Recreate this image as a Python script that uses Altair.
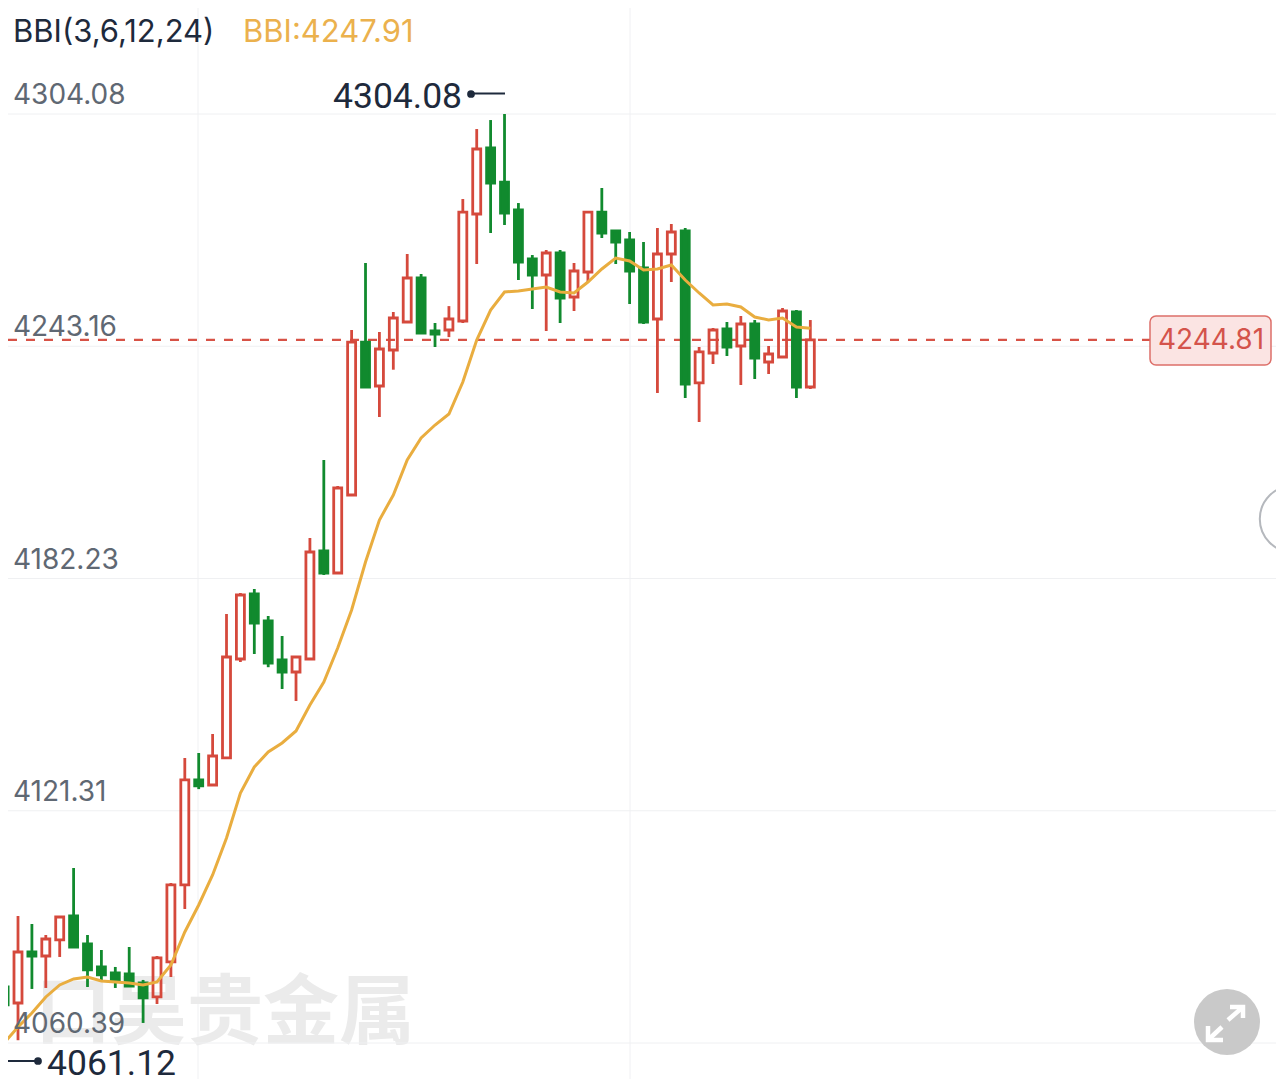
import altair as alt
import pandas as pd

FONT = "Inter"
BIG_FONT = "Roboto"
RED, GREEN, GOLD, INK, MUTED = "#d5493c", "#118a2e", "#e9ad3f", "#1e2a3c", "#5f6873"

high = [4075.09, 4093.71, 4091.61, 4088.73, 4093.71, 4106.30, 4088.73, 4084.79, 4080.34, 4085.58,
        4076.93, 4083.22, 4102.37, 4135.16, 4136.47, 4141.45, 4172.93, 4178.44, 4179.49, 4172.40,
        4167.16, 4161.65, 4192.86, 4213.32, 4206.50, 4247.42, 4265.00, 4246.90, 4252.14, 4267.36,
        4262.12, 4249.26, 4253.69, 4281.78, 4300.14, 4302.50, 4304.08, 4280.73, 4267.09, 4268.41,
        4268.41, 4265.00, 4278.63, 4284.67, 4273.39, 4273.13, 4270.51, 4274.18, 4275.23, 4274.18,
        4242.97, 4247.95, 4249.52, 4251.09, 4250.04, 4243.23, 4253.20, 4252.67, 4250.04]
low = [4070.37, 4061.12, 4074.57, 4074.83, 4082.96, 4085.58, 4075.09, 4076.40, 4074.83, 4075.35,
       4065.65, 4070.63, 4077.71, 4095.55, 4126.99, 4128.07, 4135.16, 4160.34, 4162.44, 4158.97,
       4153.26, 4150.11, 4161.12, 4183.16, 4183.68, 4204.14, 4232.47, 4224.60, 4237.01, 4249.52,
       4246.64, 4242.97, 4245.56, 4249.26, 4264.73, 4272.87, 4274.97, 4260.54, 4252.93, 4247.16,
       4249.26, 4252.41, 4260.01, 4271.55, 4264.73, 4254.24, 4249.00, 4230.90, 4260.01, 4229.59,
       4223.29, 4238.50, 4240.60, 4233.00, 4234.57, 4235.88, 4240.34, 4229.59, 4231.95]
body_top = [4075.09, 4084.27, 4084.27, 4087.68, 4093.45, 4093.71, 4086.37, 4080.34, 4078.76, 4078.50,
            4076.14, 4082.70, 4101.85, 4129.39, 4129.39, 4135.68, 4161.65, 4177.91, 4178.18, 4171.09,
            4160.86, 4161.65, 4189.19, 4189.45, 4205.98, 4244.27, 4244.27, 4242.44, 4250.57, 4261.07,
            4261.07, 4247.17, 4250.31, 4278.37, 4294.90, 4295.16, 4286.24, 4278.90, 4266.05, 4267.62,
            4267.62, 4262.90, 4278.37, 4278.37, 4273.39, 4271.03, 4263.69, 4267.36, 4273.13, 4273.39,
            4241.66, 4247.42, 4247.69, 4249.00, 4249.00, 4241.13, 4252.41, 4252.14, 4244.81]
body_bottom = [4070.37, 4070.89, 4083.22, 4083.22, 4087.42, 4085.58, 4079.55, 4078.24, 4076.93, 4075.35,
               4072.21, 4072.47, 4081.65, 4101.85, 4127.82, 4128.07, 4135.16, 4161.12, 4170.57, 4160.07,
               4157.71, 4157.71, 4161.12, 4183.68, 4183.68, 4204.14, 4232.47, 4232.74, 4242.18, 4249.52,
               4246.64, 4246.38, 4247.42, 4249.79, 4277.85, 4285.98, 4278.11, 4265.26, 4261.85, 4261.85,
               4255.82, 4256.08, 4262.64, 4272.87, 4270.51, 4262.90, 4249.52, 4250.31, 4267.36, 4233.26,
               4233.53, 4241.39, 4242.97, 4243.23, 4240.08, 4239.03, 4240.34, 4232.47, 4232.47]
rising = [0, 1, 0, 1, 1, 0, 0, 0, 0, 0, 0, 1, 1, 1, 0, 1, 1, 1, 0, 0, 0, 1, 1, 0, 1, 1, 0, 1, 1, 1,
          0, 0, 1, 1, 1, 0, 0, 0, 0, 1, 0, 1, 1, 0, 0, 0, 0, 1, 1, 0, 1, 1, 0, 1, 0, 1, 1, 0, 1]
bbi = [4060.40, 4064.60, 4068.27, 4072.47, 4075.62, 4077.19, 4077.71, 4076.66, 4076.40, 4076.14,
       4075.62, 4076.40, 4080.86, 4089.52, 4096.60, 4104.47, 4114.18, 4125.98, 4132.80, 4136.74,
       4139.10, 4142.25, 4149.06, 4155.10, 4164.01, 4173.98, 4186.57, 4197.58, 4204.14, 4213.32,
       4219.09, 4222.50, 4225.39, 4233.78, 4244.80, 4252.67, 4257.39, 4257.65, 4258.18, 4258.70,
       4257.39, 4257.13, 4260.01, 4263.43, 4266.31, 4265.52, 4263.16, 4263.43, 4264.48, 4260.54,
       4257.13, 4253.98, 4254.24, 4253.46, 4250.84, 4250.04, 4250.57, 4248.21, 4247.91]
y_ticks = [4060.39, 4121.31, 4182.23, 4243.16, 4304.08]
x_grid = [13.95, 45.03]
last_price = 4244.81

W, H = 1268, 1071
xs = alt.Scale(domain=[0, 91.5], range=[-3.9, W], nice=False, zero=False, padding=0)
ys = alt.Scale(domain=[4050.95, 4331.89], range=[H, 0], nice=False, zero=False, padding=0)

df = pd.DataFrame({"i": range(len(high)), "high": high, "low": low, "top": body_top,
                   "bottom": body_bottom, "bbi": bbi, "rising": rising})
df["color"] = [RED if r else GREEN for r in rising]
df["fill"] = ["transparent" if r else GREEN for r in rising]

X = alt.X("i:Q", scale=xs, axis=None)
base = alt.Chart(df)

ticks_df = pd.DataFrame({"t": y_ticks, "s": [f"{v:.2f}" for v in y_ticks]})
grid = alt.Chart(ticks_df).mark_rule(color="#eff0f2", strokeWidth=1).encode(
    y=alt.Y("t:Q", scale=ys, axis=None))
tick_labels = alt.Chart(ticks_df).mark_text(
    font=FONT, fontSize=28, color=MUTED, align="left", baseline="middle", dy=-18
).encode(x=alt.value(5), y=alt.Y("t:Q", scale=ys, axis=None), text="s:N")
vgrid = alt.Chart(pd.DataFrame({"v": x_grid})).mark_rule(color="#f0f1f3", strokeWidth=1).encode(
    x=alt.X("v:Q", scale=xs, axis=None))

watermark = alt.Chart(pd.DataFrame({"t": ["口吴贵金属"]})).mark_text(
    font="Noto Sans CJK SC", fontSize=76, fontWeight="bold", color="#ebebeb", align="left", baseline="middle"
).encode(x=alt.value(27), y=alt.value(1007), text="t:N")

dash = alt.Chart(pd.DataFrame({"p": [last_price], "a": [0.28], "b": [82.44]})).mark_rule(
    color=RED, strokeWidth=2.2, strokeDash=[9, 9], opacity=0.95
).encode(x=alt.X("a:Q", scale=xs, axis=None), x2="b:Q", y=alt.Y("p:Q", scale=ys, axis=None))

wick_up = base.mark_rule(strokeWidth=2.8, clip=True).encode(
    x=X, y=alt.Y("high:Q", scale=ys, axis=None), y2="top:Q", color=alt.Color("color:N", scale=None))
wick_down = base.mark_rule(strokeWidth=2.8, clip=True).encode(
    x=X, y=alt.Y("bottom:Q", scale=ys, axis=None), y2="low:Q", color=alt.Color("color:N", scale=None))
bodies = base.mark_bar(size=8, strokeWidth=2.8, clip=True).encode(
    x=X, y=alt.Y("top:Q", scale=ys, axis=None), y2="bottom:Q",
    fill=alt.Fill("fill:N", scale=None), stroke=alt.Stroke("color:N", scale=None))
line = base.mark_line(color=GOLD, strokeWidth=3, clip=True).encode(
    x=X, y=alt.Y("bbi:Q", scale=ys, axis=None))


def label(text, x, y, size, color, align="left", font=FONT):
    return alt.Chart(pd.DataFrame({"t": [text]})).mark_text(
        font=font, fontSize=size, color=color, align=align, baseline="middle"
    ).encode(x=alt.value(x), y=alt.value(y), text="t:N")


tag = alt.Chart(pd.DataFrame({"a": [0]})).mark_rect(
    fill="#fbe4e3", stroke="#dd6f69", strokeWidth=1.5, cornerRadius=6
).encode(x=alt.value(1142), x2=alt.value(1263), y=alt.value(308), y2=alt.value(357))

polylines = pd.DataFrame({
    "g": ["hi", "hi", "lo", "lo", "a", "a", "a", "b", "b", "c", "c", "c", "d", "d"],
    "o": [0, 1, 0, 1, 0, 1, 2, 0, 1, 0, 1, 2, 0, 1],
    "x": [463, 497, 0, 30, 1222, 1235, 1235, 1220, 1235, 1215, 1200, 1200, 1214, 1200],
    "y": [85.5, 85.5, 1053, 1053, 999, 999, 1010, 1012, 999, 1032, 1032, 1018, 1019, 1032],
    "c": [INK, INK, INK, INK, "white", "white", "white", "white", "white", "white", "white", "white", "white", "white"],
    "w": [2, 2, 2, 2, 4.5, 4.5, 4.5, 4.5, 4.5, 4.5, 4.5, 4.5, 4.5, 4.5],
})


def strokes(flt):
    return alt.Chart(polylines).transform_filter(flt).mark_line().encode(
        x=alt.X("x:Q", scale=alt.Scale(domain=[0, W], range=[0, W]), axis=None),
        y=alt.Y("y:Q", scale=alt.Scale(domain=[0, H], range=[0, H]), axis=None),
        detail="g:N", order="o:Q",
        color=alt.Color("c:N", scale=None), strokeWidth=alt.StrokeWidth("w:Q", scale=None))


def dot(x, y, size, color):
    return alt.Chart(pd.DataFrame({"a": [0]})).mark_point(
        shape="circle", filled=True, size=size, color=color, opacity=1
    ).encode(x=alt.value(x), y=alt.value(y))


ring = alt.Chart(pd.DataFrame({"a": [0]})).mark_point(
    shape="circle", filled=False, size=4409, color="#b5b8bd", strokeWidth=2, opacity=1
).encode(x=alt.value(1285), y=alt.value(511))

data_layers = alt.layer(vgrid, watermark, grid, dash, wick_up, wick_down, bodies, line, tick_labels)
overlay_layers = alt.layer(strokes("datum.c != 'white'"), dot(1219, 1014, 4356, "#c9c9c9"), strokes("datum.c == 'white'"))

chart = alt.layer(
    data_layers, overlay_layers,
    tag, label(f"{last_price:.2f}", 1203, 333, 28, "#d4534b", "center"),
    label("BBI(3,6,12,24)", 5, 24.5, 31, INK), label("BBI:4247.91", 235, 24.5, 31, "#ebb14d"),
    label("4304.08", 325, 88.5, 35.5, INK, font=BIG_FONT), label("4061.12", 39, 1056, 35.5, INK, font=BIG_FONT),
    dot(463, 86, 60, INK), dot(30, 1053, 60, INK), ring,
).resolve_scale(x="independent", y="independent").properties(
    width=W, height=H, padding=0, autosize=alt.AutoSizeParams(type="none"),
    background="white",
).configure_view(stroke=None)

chart.save("out.html", embed_options={"renderer": "svg", "actions": False})
